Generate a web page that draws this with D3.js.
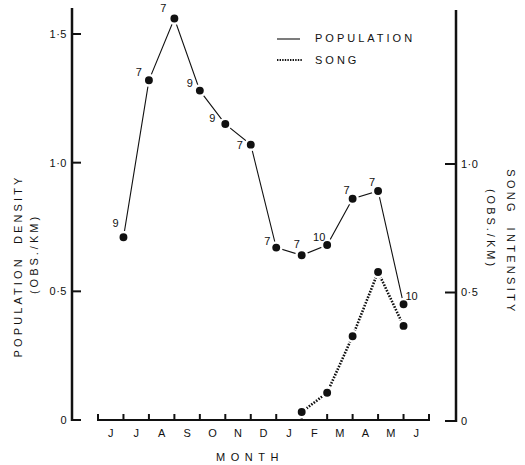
<!DOCTYPE html>
<html><head><meta charset="utf-8">
<script src="https://cdn.jsdelivr.net/npm/d3@7/dist/d3.min.js"></script>
<style>
html,body{margin:0;padding:0;background:#fff;}
svg{display:block;font-family:"Liberation Sans",Arial,Helvetica,sans-serif;}
text{fill:#111;}
</style></head>
<body><svg id="c" width="525" height="465"></svg>
<script>
// ---- data ----
const months = ["J","J","A","S","O","N","D","J","F","M","A","M","J"];
const popPos = [1,2,3,4,5,6,7,8,9,10,11,12];          // month boundary index of each survey
const popValues = [0.71,1.32,1.56,1.28,1.15,1.07,0.67,0.64,0.68,0.86,0.89,0.45];
const popN = ["9","7","7","9","9","7","7","7","10","7","7","10"];
const songPos = [8,9,10,11,12];
const songValues = [0.035,0.11,0.33,0.58,0.37];
const popTicks = [0,0.5,1.0,1.5];
const popTickLabels = ["0","0·5","1·0","1·5"];
const songTicks = [0,0.5,1.0];
const songTickLabels = ["0","0·5","1·0"];

// ---- drawing ----
const svg = d3.select("#c");
const x = d3.scaleLinear().domain([0, months.length]).range([98, 429]);
const yPop = d3.scaleLinear().domain([0, 1.5]).range([420, 34]);
const ySong = d3.scaleLinear().domain([0, 1.0]).range([421, 164]);
const ink = "#111";

// left axis
svg.append("line").attr("x1",72).attr("x2",72).attr("y1",8).attr("y2",yPop(0)+1)
  .attr("stroke",ink).attr("stroke-width",2.5);
const lt = svg.append("g").selectAll("g").data(popTicks).join("g")
  .attr("transform", d => `translate(0,${yPop(d)})`);
lt.append("line").attr("x1",72).attr("x2",81).attr("stroke",ink).attr("stroke-width",2);
lt.append("text").attr("x",67).attr("dy","0.35em").attr("text-anchor","end")
  .style("font-size","11px").style("letter-spacing","0.5px").text((d,i)=>popTickLabels[i]);

// right axis
svg.append("line").attr("x1",456).attr("x2",456).attr("y1",10).attr("y2",ySong(0)+1)
  .attr("stroke",ink).attr("stroke-width",2.5);
const rt = svg.append("g").selectAll("g").data(songTicks).join("g")
  .attr("transform", d => `translate(0,${ySong(d)})`);
rt.append("line").attr("x1",445).attr("x2",456).attr("stroke",ink).attr("stroke-width",2);
rt.append("text").attr("x",461).attr("dy","0.35em").attr("text-anchor","start")
  .style("font-size","11px").style("letter-spacing","0.5px").text((d,i)=>songTickLabels[i]);

// x axis
svg.append("line").attr("x1",x(0)).attr("x2",x(months.length)).attr("y1",420).attr("y2",420)
  .attr("stroke",ink).attr("stroke-width",2);
svg.append("g").selectAll("line").data(d3.range(months.length+1)).join("line")
  .attr("x1",d=>x(d)).attr("x2",d=>x(d)).attr("y1",421).attr("y2",414)
  .attr("stroke",ink).attr("stroke-width",2);
svg.append("g").selectAll("text").data(months).join("text")
  .attr("x",(d,i)=>x(i+0.5)).attr("y",433).attr("dy","0.35em").attr("text-anchor","middle")
  .style("font-size","11px").text(d=>d);
svg.append("text").attr("x",250).attr("y",457).attr("dy","0.35em").attr("text-anchor","middle")
  .style("font-size","11px").style("letter-spacing","5.5px").text("MONTH");

// axis titles
svg.append("text").attr("transform","translate(18,266) rotate(-90)").attr("dy","0.35em")
  .attr("text-anchor","middle").style("font-size","11px").style("letter-spacing","3.1px")
  .style("white-space","pre").text("POPULATION  DENSITY");
svg.append("text").attr("transform","translate(34,254) rotate(-90)").attr("dy","0.35em")
  .attr("text-anchor","middle").style("font-size","11px").style("letter-spacing","3px")
  .text("(OBS./KM)");
svg.append("text").attr("transform","translate(511,242) rotate(90)").attr("dy","0.35em")
  .attr("text-anchor","middle").style("font-size","11px").style("letter-spacing","3.3px")
  .style("white-space","pre").text("SONG  INTENSITY");
svg.append("text").attr("transform","translate(491,229) rotate(90)").attr("dy","0.35em")
  .attr("text-anchor","middle").style("font-size","11px").style("letter-spacing","3px")
  .text("(OBS./KM)");

// lines
const popPts = popPos.map((p,i)=>[x(p), yPop(popValues[i])]);
const songPts = songPos.map((p,i)=>[x(p), ySong(songValues[i])]);
svg.append("path").attr("d", d3.line()(popPts)).attr("fill","none")
  .attr("stroke",ink).attr("stroke-width",1.1);
svg.append("path").attr("d", d3.line()(songPts)).attr("fill","none")
  .attr("stroke",ink).attr("stroke-width",2.6).attr("stroke-dasharray","1.6,1.4");

// points
svg.append("g").selectAll("circle").data(popPts).join("circle")
  .attr("cx",d=>d[0]).attr("cy",d=>d[1]).attr("r",5.2)
  .attr("fill",ink).attr("stroke","#fff").attr("stroke-width",2.5);
svg.append("g").selectAll("circle").data(songPts).join("circle")
  .attr("cx",d=>d[0]).attr("cy",d=>d[1]).attr("r",5.2)
  .attr("fill",ink).attr("stroke","#fff").attr("stroke-width",2.5);

// sample-size labels
const nOff = [[-8,-14],[-10,-8],[-11,-10],[-10,-7],[-13,-6],[-11,0],[-9,-6],[-5,-11],[-8,-8],[-6,-9],[-6,-9],[8,-8]];
svg.append("g").selectAll("text").data(popN).join("text")
  .attr("x",(d,i)=>popPts[i][0]+nOff[i][0]).attr("y",(d,i)=>popPts[i][1]+nOff[i][1])
  .attr("dy","0.35em").attr("text-anchor","middle").style("font-size","11px").text(d=>d);

// legend
svg.append("line").attr("x1",277).attr("x2",300).attr("y1",39).attr("y2",39)
  .attr("stroke",ink).attr("stroke-width",1.1);
svg.append("line").attr("x1",277).attr("x2",303).attr("y1",60).attr("y2",60)
  .attr("stroke",ink).attr("stroke-width",2.2).attr("stroke-dasharray","1.4,1.2");
svg.append("text").attr("x",315).attr("y",38).attr("dy","0.35em")
  .style("font-size","11px").style("letter-spacing","3px").text("POPULATION");
svg.append("text").attr("x",315).attr("y",60).attr("dy","0.35em")
  .style("font-size","11px").style("letter-spacing","3px").text("SONG");
</script></body></html>
